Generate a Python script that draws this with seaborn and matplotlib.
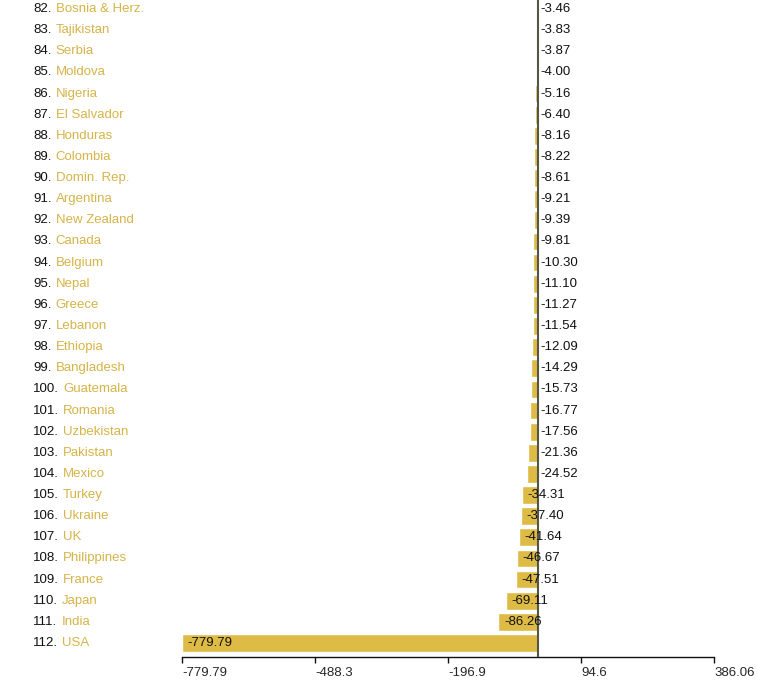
import matplotlib
matplotlib.use("Agg")
import matplotlib.pyplot as plt
import seaborn as sns
import pandas as pd

ranks = list(range(82, 113))
countries = ["Bosnia & Herz.", "Tajikistan", "Serbia", "Moldova", "Nigeria", "El Salvador",
             "Honduras", "Colombia", "Domin. Rep.", "Argentina", "New Zealand", "Canada",
             "Belgium", "Nepal", "Greece", "Lebanon", "Ethiopia", "Bangladesh", "Guatemala",
             "Romania", "Uzbekistan", "Pakistan", "Mexico", "Turkey", "Ukraine", "UK",
             "Philippines", "France", "Japan", "India", "USA"]
values = [-3.46, -3.83, -3.87, -4.00, -5.16, -6.40, -8.16, -8.22, -8.61, -9.21, -9.39, -9.81,
          -10.30, -11.10, -11.27, -11.54, -12.09, -14.29, -15.73, -16.77, -17.56, -21.36,
          -24.52, -34.31, -37.40, -41.64, -46.67, -47.51, -69.11, -86.26, -779.79]
tick_values = [-779.79, -488.3, -196.9, 94.6, 386.06]
tick_labels = ["-779.79", "-488.3", "-196.9", "94.6", "386.06"]

sns.set_style("white")
plt.rcParams["font.family"] = ["Liberation Sans", "DejaVu Sans"]

df = pd.DataFrame({"country": countries, "value": values})

W, H = 758, 686
fig = plt.figure(figsize=(W / 100, H / 100), dpi=100)
ax = fig.add_axes([182 / W, 1 - 657 / H, (714 - 182) / W, 657 / H])

bar_color = "#DDBB45"
name_color = "#D6B449"
sns.barplot(data=df, y="country", x="value", orient="h", color=bar_color,
            width=0.84, saturation=1, ax=ax)

n = len(countries)
ax.set_xlim(tick_values[0], tick_values[-1])
ax.set_ylim(n - 1 + 0.663, -0.426)

ax.axvline(0, color="#555548", lw=1.5, zorder=5)

for i, (r, c, v) in enumerate(zip(ranks, countries, values)):
    if abs(v) > 30:
        ax.annotate(f"{v:.2f}", xy=(v, i), xytext=(4, 0), textcoords="offset points",
                    ha="left", va="center", fontsize=9.5, color="#111111", zorder=6)
    else:
        ax.annotate(f"{v:.2f}", xy=(0, i), xytext=(1.5, 0), textcoords="offset points",
                    ha="left", va="center", fontsize=9.5, color="#111111", zorder=6)
    t = ax.annotate(f"{r}.", xy=(33 / W, i), xycoords=("figure fraction", "data"),
                    ha="left", va="center", fontsize=9.5, color="#111111",
                    annotation_clip=False)
    ax.annotate(c, xy=(1, 0), xycoords=t, xytext=(3, 0), textcoords="offset points",
                ha="left", va="bottom", fontsize=9.5, color=name_color,
                annotation_clip=False)

for s in ["top", "right", "left"]:
    ax.spines[s].set_visible(False)
ax.spines["bottom"].set_color("#111111")
ax.spines["bottom"].set_linewidth(1)
ax.set_yticks([])
ax.set_ylabel("")
ax.set_xlabel("")
ax.set_xticks(tick_values)
ax.set_xticklabels(tick_labels, ha="left", fontsize=9.5)
ax.tick_params(axis="x", direction="out", length=4, width=1, color="#111111", pad=3,
               bottom=True)

fig.savefig("out.png", dpi=100)
